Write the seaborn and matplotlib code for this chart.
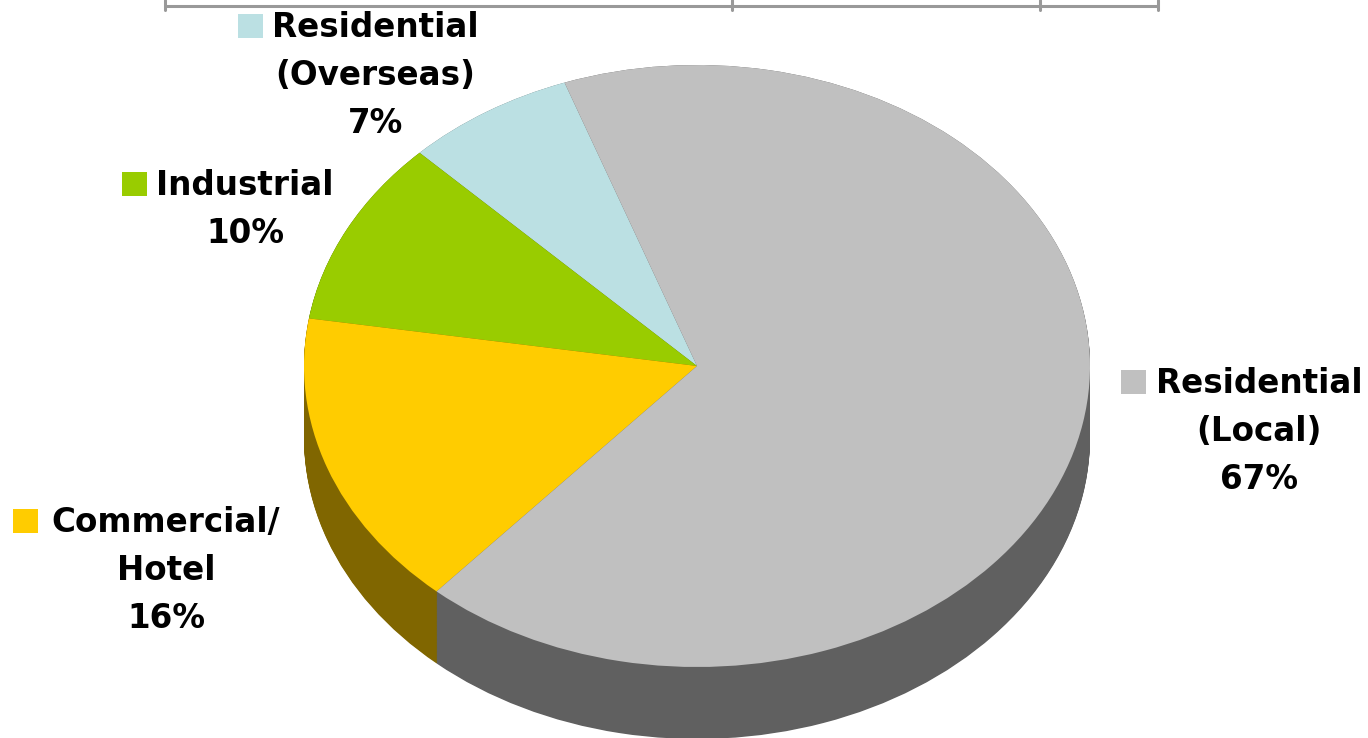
import numpy as np
import matplotlib
matplotlib.use("Agg")
import matplotlib.pyplot as plt
import seaborn as sns
from matplotlib.patches import Rectangle
from matplotlib.lines import Line2D

# data
categories = ["Residential\n(Overseas)", "Industrial", "Commercial/\nHotel", "Residential\n(Local)"]
shares = [7, 10, 16, 67]
top_colors = ["#BBE0E3", "#99CC00", "#FFCC00", "#C0C0C0"]
side_colors = ["#5E7072", "#4D6600", "#806600", "#606060"]

sns.set_theme(style="white")
plt.rcParams['font.family'] = ['DejaVu Sans']

W, H = 1368, 738
fig = plt.figure(figsize=(W / 100, H / 100), dpi=100)
ax = fig.add_axes([0, 0, 1, 1])

# pie geometry in pixels (y from top)
cx, cy, rx, ry = 697, 366, 393, 301
depth = 72 / ry
start = 109.7

# side of the 3d pie: stack of darker pies
for k in np.linspace(depth, 0, 90):
    ax.pie(shares, colors=side_colors, startangle=start, center=(0, -k), radius=1,
           wedgeprops=dict(linewidth=0))

# top face
ax.pie(shares, colors=top_colors, startangle=start, center=(0, 0), radius=1,
       wedgeprops=dict(linewidth=0))

ax.set_aspect('auto')
ax.set_xlim((0 - cx) / rx, (W - cx) / rx)
ax.set_ylim((cy - H) / ry, cy / ry)
ax.axis('off')

# labels (center x, first baseline y, legend key left x) in pixels
label_pos = [(375, 37, 238), (245, 195, 122), (166, 532, 13), (1259, 393, 1121)]
line_step = 48
for cat, val, col, (lx, ly, kx) in zip(categories, shares, top_colors, label_pos):
    lines = cat.split("\n") + [f"{val}%"]
    for i, t in enumerate(lines):
        fig.text(lx / W, 1 - (ly + i * line_step) / H, t, ha='center', va='baseline',
                 fontsize=23.5, fontweight='bold', color='black')
    fig.patches.append(Rectangle((kx / W, 1 - (ly + 1) / H), 25 / W, 24 / H,
                                 transform=fig.transFigure, facecolor=col,
                                 edgecolor='none', figure=fig))

# cropped table border at top
line_col = '#999999'
fig.add_artist(Line2D([165 / W, 1158 / W], [1 - 6 / H, 1 - 6 / H],
                      transform=fig.transFigure, color=line_col, lw=2.2))
for tx in [165, 732, 1040, 1158]:
    fig.add_artist(Line2D([tx / W, tx / W], [1, 1 - 10 / H],
                          transform=fig.transFigure, color=line_col, lw=2.2))

fig.savefig("out.png", dpi=100, facecolor='white')
